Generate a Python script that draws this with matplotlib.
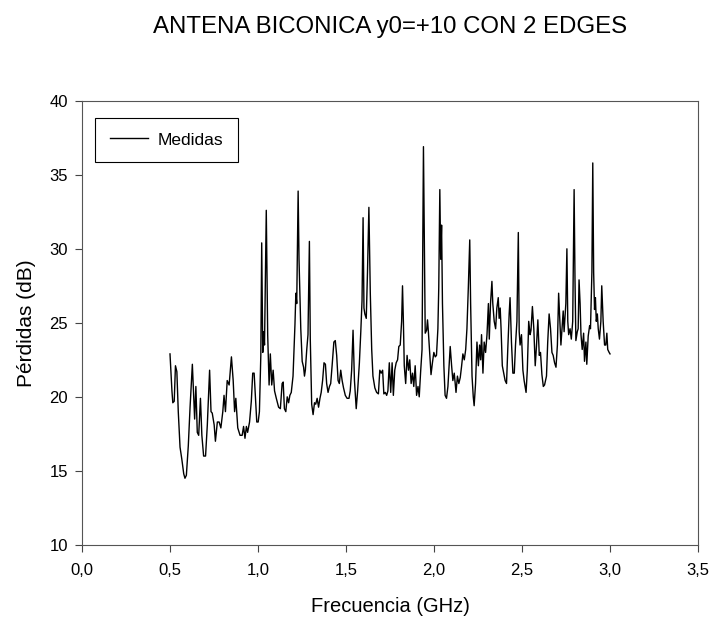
import matplotlib.pyplot as plt
from matplotlib.ticker import FuncFormatter

plt.rcParams['font.family'] = ['Liberation Sans', 'DejaVu Sans']

# frecuencia (GHz) y perdidas (dB)
frecuencia = [
    0.500, 0.511, 0.516, 0.524, 0.531, 0.539, 0.547, 0.557, 0.567, 0.578,
    0.585, 0.593, 0.604, 0.614, 0.627, 0.635, 0.640, 0.647, 0.655, 0.663,
    0.673, 0.681, 0.691, 0.702, 0.712, 0.725, 0.733, 0.740, 0.751, 0.758,
    0.769, 0.779, 0.789, 0.800, 0.807, 0.815, 0.825, 0.836, 0.849, 0.859,
    0.867, 0.874, 0.885, 0.898, 0.910, 0.918, 0.926, 0.934, 0.941, 0.952,
    0.962, 0.970, 0.978, 0.985, 0.993, 1.001,
    1.008, 1.016, 1.021, 1.027, 1.032, 1.037, 1.047, 1.055, 1.063, 1.070,
    1.078, 1.086, 1.094, 1.104, 1.117, 1.127, 1.137, 1.143, 1.150, 1.158,
    1.166, 1.174, 1.181, 1.189, 1.199, 1.210, 1.215, 1.220, 1.228, 1.233,
    1.238, 1.243, 1.251, 1.259, 1.264, 1.269, 1.277, 1.284, 1.292, 1.297,
    1.305, 1.313, 1.321, 1.328, 1.336, 1.344, 1.352, 1.359, 1.367, 1.375,
    1.383, 1.390, 1.398, 1.406, 1.413, 1.421, 1.431, 1.439, 1.447, 1.455,
    1.462, 1.470, 1.478, 1.486, 1.496,
    1.506, 1.517, 1.524, 1.532, 1.540, 1.548, 1.558, 1.566, 1.576, 1.584,
    1.591, 1.597, 1.602, 1.607, 1.615, 1.622, 1.630, 1.638, 1.646, 1.653,
    1.664, 1.674, 1.684, 1.692, 1.700, 1.708, 1.715, 1.723, 1.731, 1.738,
    1.746, 1.754, 1.762, 1.769, 1.777, 1.785, 1.793, 1.800, 1.808, 1.816,
    1.821, 1.826, 1.831, 1.839, 1.847, 1.855, 1.862, 1.870, 1.878, 1.885,
    1.893, 1.901, 1.909, 1.916, 1.924, 1.932, 1.940, 1.945, 1.950, 1.958,
    1.963, 1.968, 1.976, 1.983, 1.991, 1.999,
    2.007, 2.014, 2.022, 2.027, 2.033, 2.038, 2.043, 2.048, 2.056, 2.063,
    2.071, 2.079, 2.092, 2.100, 2.107, 2.115, 2.125, 2.133, 2.141, 2.149,
    2.156, 2.164, 2.172, 2.180, 2.187, 2.195, 2.203, 2.208, 2.216, 2.223,
    2.228, 2.236, 2.244, 2.252, 2.259, 2.265, 2.270, 2.278, 2.285, 2.293,
    2.301, 2.309, 2.314, 2.321, 2.329, 2.334, 2.342, 2.350, 2.357, 2.365,
    2.370, 2.376, 2.381, 2.388, 2.396, 2.404, 2.412, 2.419, 2.427, 2.432,
    2.440, 2.448, 2.456, 2.463, 2.471, 2.479, 2.484, 2.489, 2.497,
    2.505, 2.512, 2.523, 2.530, 2.538, 2.546, 2.551, 2.559, 2.567, 2.575,
    2.582, 2.590, 2.598, 2.605, 2.613, 2.621, 2.628, 2.639, 2.646, 2.654,
    2.662, 2.670, 2.677, 2.685, 2.693, 2.701, 2.708, 2.713, 2.721, 2.729,
    2.734, 2.739, 2.744, 2.749, 2.755, 2.760, 2.765, 2.773, 2.780, 2.788,
    2.796, 2.801, 2.806, 2.814, 2.819, 2.824, 2.830, 2.835, 2.842, 2.850,
    2.855, 2.863, 2.868, 2.876, 2.884, 2.889, 2.897, 2.902, 2.907, 2.912,
    2.917, 2.922, 2.928, 2.933, 2.940, 2.948, 2.953, 2.961, 2.969, 2.976,
    2.982, 2.987, 2.995, 3.000,
]
perdidas = [
    22.9, 20.4, 19.6, 19.7, 22.1, 21.7, 19.0, 16.6, 15.8, 14.8,
    14.5, 14.7, 16.7, 19.3, 22.2, 20.0, 18.5, 20.7, 17.6, 17.4,
    19.9, 17.4, 16.0, 16.0, 18.1, 21.8, 19.0, 18.9, 18.1, 17.0,
    18.3, 18.3, 17.9, 19.0, 20.1, 19.0, 21.1, 20.8, 22.7, 21.1,
    19.0, 19.9, 17.9, 17.4, 17.4, 18.0, 17.2, 18.0, 17.6, 18.3,
    19.7, 21.6, 21.6, 20.0, 18.3, 18.3,
    19.0, 22.8, 30.4, 23.0, 24.4, 23.5, 32.6, 24.2, 20.8, 22.9,
    20.8, 21.8, 20.4, 19.9, 19.3, 19.2, 20.9, 21.0, 19.2, 19.0,
    20.0, 19.6, 20.1, 20.3, 21.4, 24.9, 27.0, 26.3, 33.9, 29.3,
    27.0, 24.6, 22.4, 22.0, 21.4, 21.8, 23.2, 24.2, 30.5, 23.9,
    19.5, 18.8, 19.6, 19.5, 19.9, 19.3, 19.9, 20.3, 21.1, 22.3,
    22.2, 20.9, 20.3, 20.7, 20.9, 22.1, 23.7, 23.8, 22.8, 21.1,
    20.9, 21.8, 21.1, 20.6, 20.1,
    19.9, 19.9, 20.4, 21.8, 24.5, 21.1, 19.2, 20.4, 22.3, 24.4,
    26.5, 32.1, 26.0, 25.6, 25.3, 28.4, 32.8, 27.0, 23.2, 21.4,
    20.6, 20.3, 20.2, 21.8, 21.6, 21.8, 20.2, 20.3, 20.1, 20.4,
    22.3, 20.3, 22.3, 20.1, 21.8, 22.3, 22.5, 23.4, 23.5, 25.1,
    27.5, 25.1, 22.1, 20.9, 22.8, 21.8, 22.5, 20.9, 21.6, 20.7,
    22.1, 20.1, 20.7, 20.0, 21.7, 23.2, 36.9, 30.2, 24.3, 24.5,
    25.2, 24.4, 22.8, 21.5, 22.3, 23.0,
    22.7, 22.8, 24.6, 27.4, 34.0, 29.3, 31.6, 26.3, 22.1, 20.1,
    19.9, 20.7, 23.4, 22.1, 21.1, 21.6, 20.3, 21.4, 20.9, 21.3,
    22.0, 22.9, 22.5, 23.2, 24.6, 27.4, 30.6, 26.3, 21.4, 20.0,
    19.4, 20.9, 23.7, 22.1, 23.5, 22.5, 24.2, 21.6, 23.7, 23.0,
    24.2, 26.3, 23.9, 26.3, 27.8, 26.3, 25.1, 24.6, 26.0, 26.7,
    25.3, 26.0, 24.6, 22.1, 21.6, 21.1, 20.9, 23.2, 25.6, 26.7,
    23.7, 21.6, 21.6, 23.5, 25.1, 31.1, 24.4, 23.5, 24.2,
    21.8, 21.1, 20.3, 21.8, 25.1, 24.2, 24.5, 26.1, 24.6, 22.1,
    23.4, 25.2, 22.8, 23.0, 21.5, 20.7, 20.8, 21.4, 23.7, 25.6,
    24.6, 23.0, 22.8, 22.3, 22.0, 23.5, 27.0, 25.6, 23.5, 24.9,
    25.8, 24.4, 25.3, 26.3, 30.0, 25.1, 24.2, 24.6, 23.9, 25.1,
    34.0, 27.9, 23.8, 24.4, 24.6, 27.9, 26.3, 24.2, 23.2, 24.3,
    22.4, 23.7, 22.2, 24.1, 24.8, 24.6, 28.4, 35.8, 28.4, 25.9,
    26.7, 25.1, 25.6, 24.6, 23.9, 25.1, 27.5, 25.1, 23.5, 23.5,
    24.3, 23.2, 23.0, 22.9,
]

x_ticks = [0.0, 0.5, 1.0, 1.5, 2.0, 2.5, 3.0, 3.5]
y_ticks = [10, 15, 20, 25, 30, 35, 40]

fig = plt.figure(figsize=(7.13, 6.22), dpi=100)
ax = fig.add_axes([0.115, 0.124, 0.864, 0.714])

ax.plot(frecuencia, perdidas, color='black', linewidth=1.0, label='Medidas')

ax.set_xlim(0, 3.5)
ax.set_ylim(10, 40)
ax.set_xticks(x_ticks)
ax.set_yticks(y_ticks)
ax.xaxis.set_major_formatter(FuncFormatter(lambda v, p: f'{v:.1f}'.replace('.', ',')))
ax.tick_params(direction='out', labelsize=12, length=5, color='#444444')
ax.tick_params(axis='x', pad=8)
ax.tick_params(axis='y', pad=5)
for s in ax.spines.values():
    s.set_color('#555555')

ax.set_xlabel('Frecuencia (GHz)', fontsize=14.5, labelpad=14)
ax.set_ylabel('Pérdidas (dB)', fontsize=15, labelpad=10)

fig.text(0.547, 0.956, 'ANTENA BICONICA y0=+10 CON 2 EDGES', fontsize=17.3,
         ha='center', va='center')

leg = ax.legend(loc='upper left', bbox_to_anchor=(0.021, 0.962), fontsize=12.5,
                fancybox=False, edgecolor='black', handlelength=2.2,
                handletextpad=0.55, borderpad=0.85, borderaxespad=0,
                framealpha=1)
leg.get_frame().set_linewidth(0.8)

fig.savefig('out.png', dpi=100)
